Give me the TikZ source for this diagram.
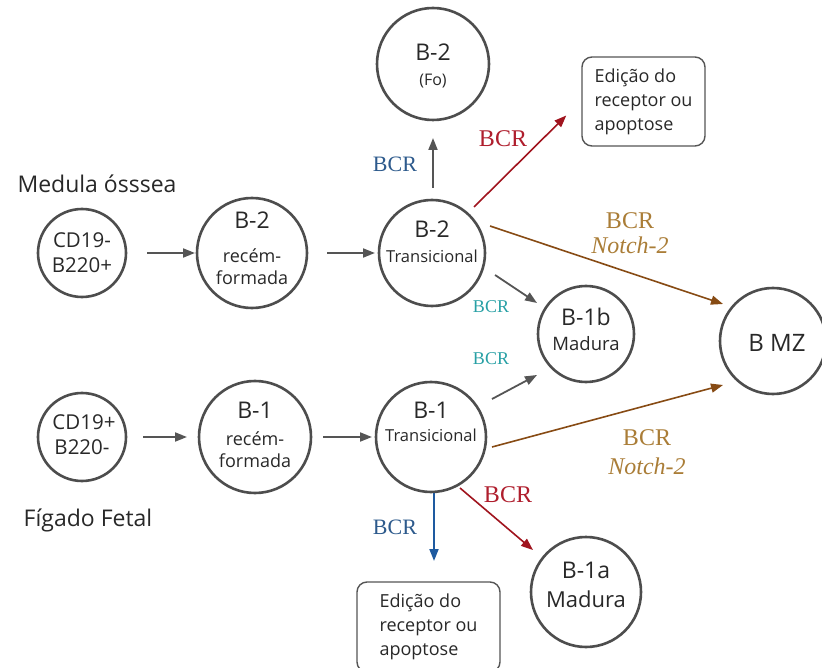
\documentclass[tikz,border=0pt]{standalone}
\usepackage{fontspec}
\setmainfont{Open Sans}
\newfontfamily\bcrfont{Liberation Serif}
\usetikzlibrary{arrows.meta,calc}
\definecolor{cellline}{RGB}{77,77,77}
\definecolor{grayarrow}{RGB}{85,85,85}
\definecolor{redarrow}{RGB}{160,20,30}
\definecolor{redlabel}{RGB}{175,30,45}
\definecolor{brownarrow}{RGB}{135,75,20}
\definecolor{brownlabel}{RGB}{170,125,55}
\definecolor{bluearrow}{RGB}{30,90,160}
\definecolor{bluelabel}{RGB}{45,90,140}
\definecolor{teallabel}{RGB}{40,160,165}
\definecolor{txt}{RGB}{40,40,40}
\begin{document}
\begin{tikzpicture}[x=1pt,y=-1pt,
  cell/.style={circle,draw=cellline,line width=2.6pt,inner sep=0pt,minimum size=#1},
  cell/.default=110pt,
  ln/.style={anchor=base,inner sep=0pt,text=txt,font=\fontsize{#1}{#1}\selectfont},
  ln/.default=18,
  ebox/.style={draw=grayarrow,line width=1.4pt,rounded corners=10pt,align=left,text=txt,
    font=\fontsize{18}{24}\selectfont,inner sep=0pt},
  tip/.style={-{Triangle[length=12pt,width=9pt]}},
  garrow/.style={tip,draw=grayarrow,line width=1.8pt},
  rarrow/.style={tip,draw=redarrow,line width=1.6pt},
  barrow/.style={tip,draw=brownarrow,line width=1.6pt},
  blarrow/.style={tip,draw=bluearrow,line width=1.8pt},
  bcr/.style={font=\bcrfont\fontsize{#1}{#1}\selectfont,inner sep=0pt},
  bcr/.default=22,
  region/.style={font=\fontsize{23}{26}\selectfont,text=txt,inner sep=0pt}
]
\useasboundingbox (0,0) rectangle (822,668);

% region labels
\node[region] (medula) at (97,184) {Medula ósssea};
\node[region] (figado) at (88,520) {Fígado Fetal};

% cells, upper row
\node[cell=88pt] (cd1) at (82,253) {};
\node[ln=20.5] (cd1a) at (82,248) {CD19-};
\node[ln=20.5] (cd1b) at (82,273) {B220+};

\node[cell=110pt] (b2r) at (252,253) {};
\node[ln=23] (b2ra) at (252,229) {B-2};
\node[ln=18] (b2rb) at (252,263) {recém-};
\node[ln=18] (b2rc) at (252,285) {formada};

\node[cell=106pt] (b2t) at (432,253) {};
\node[ln=23] (b2ta) at (432,238) {B-2};
\node[ln=16.5] (b2tb) at (432,263) {Transicional};

\node[cell=112pt] (fo) at (433,64) {};
\node[ln=23] (foa) at (433,61) {B-2};
\node[ln=16] (fob) at (433,86) {(Fo)};

\node[ebox,minimum width=123pt,minimum height=89pt] (eb1) at (643.5,101.5) {Edição do\\receptor ou\\apoptose};

% middle cells
\node[cell=96pt] (b1b) at (586,334) {};
\node[ln=23] (b1ba) at (586,326) {B-1b};
\node[ln=18.5] (b1bb) at (586,351) {Madura};

\node[cell=106pt] (bmz) at (773,341) {};
\node[ln=24] (bmza) at (777,352) {B MZ};

% cells, lower row
\node[cell=88pt] (cd2) at (82,437) {};
\node[ln=20.5] (cd2a) at (84,429) {CD19+};
\node[ln=20.5] (cd2b) at (82,454) {B220-};

\node[cell=112pt] (b1r) at (255,437) {};
\node[ln=23] (b1ra) at (255,418) {B-1};
\node[ln=18] (b1rb) at (255,445) {recém-};
\node[ln=18] (b1rc) at (255,467) {formada};

\node[cell=110pt] (b1t) at (431,437) {};
\node[ln=23] (b1ta) at (431,418) {B-1};
\node[ln=16.5] (b1tb) at (431,441) {Transicional};

\node[cell=110pt] (b1a) at (586,592) {};
\node[ln=23] (b1aa) at (586,578) {B-1a};
\node[ln=22] (b1ab) at (586,607) {Madura};

\node[ebox,minimum width=143pt,minimum height=90pt] (eb2) at (428.5,627) {Edição do\\receptor ou\\apoptose};

% straight gray arrows
\draw[garrow] ($(cd1)+(65,0)$) -- ($(b2r)+(-57,0)$);
\draw[garrow] ($(b2r)+(75,0)$) -- ($(b2t)+(-57,0)$);
\draw[garrow] ($(cd2)+(61,0)$) -- ($(b1r)+(-68,0)$);
\draw[garrow] ($(b1r)+(68,0)$) -- ($(b1t)+(-59,0)$);
\draw[garrow] ($(b2t)+(1,-65)$) -- ($(fo)+(0,74)$);
\draw[garrow] ($(b2t)+(63,22)$) -- ($(b1b)+(-49,-31)$);
\draw[garrow] ($(b1t)+(61,-38)$) -- ($(b1b)+(-49,41)$);

% coloured arrows
\draw[rarrow] ($(b2t)+(42,-46)$) -- ($(eb1.west)+(-15,14)$);
\draw[barrow] ($(b2t)+(58,-27)$) -- ($(bmz)+(-50,-37)$);
\draw[barrow] ($(b1t)+(61,10)$) -- ($(bmz)+(-50,44)$);
\draw[blarrow] ($(b1t)+(3,56)$) -- ($(b1t)+(3,124)$);
\draw[rarrow] ($(b1t)+(29,51)$) -- ($(b1a)+(-53,-42)$);

% labels
\node[bcr=22,text=bluelabel] (l1) at (395,164) {BCR};
\node[bcr=24,text=redlabel] (l2) at (503,139) {BCR};
\node[bcr=24,text=brownlabel] (l3) at (630,221) {BCR};
\node[bcr=24,text=brownlabel] (l3b) at (630,245) {\itshape Notch-2};
\node[bcr=18,text=teallabel] (l4) at (491,307) {BCR};
\node[bcr=18,text=teallabel] (l5) at (491,359) {BCR};
\node[bcr=24,text=brownlabel] (l6) at (647,438) {BCR};
\node[bcr=24,text=brownlabel] (l6b) at (647,466) {\itshape Notch-2};
\node[bcr=24,text=redlabel] (l7) at (508,495) {BCR};
\node[bcr=22,text=bluelabel] (l8) at (395,527) {BCR};
\end{tikzpicture}
\end{document}
